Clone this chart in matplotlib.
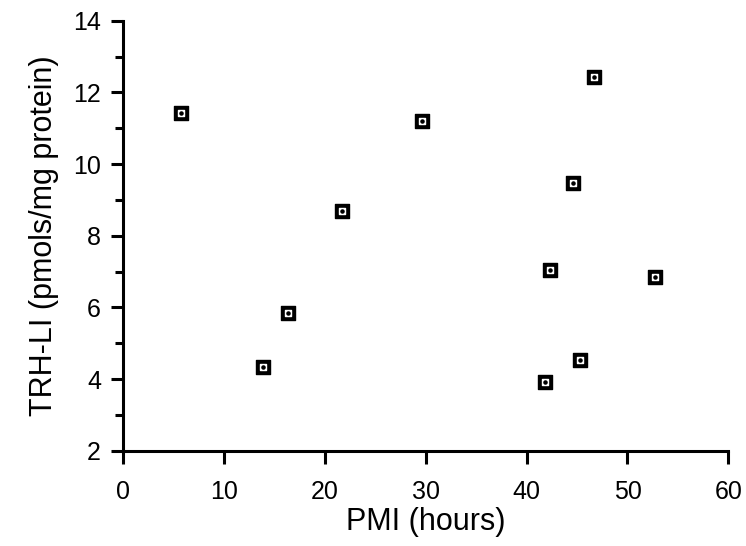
import numpy as np
import matplotlib
matplotlib.use("Agg")
import matplotlib.pyplot as plt
from matplotlib.ticker import MultipleLocator

# PMI (hours) vs TRH-LI (pmols/mg protein)
pmi = [5.7, 13.9, 16.3, 21.7, 29.6, 41.8, 42.3, 44.6, 45.3, 46.7, 52.7]
trh = [11.42, 4.34, 5.83, 8.69, 11.2, 3.91, 7.04, 9.46, 4.53, 12.43, 6.86]

xticks = [0, 10, 20, 30, 40, 50, 60]
yticks = [2, 4, 6, 8, 10, 12, 14]

plt.rcParams['font.family'] = ['Liberation Sans', 'DejaVu Sans']

fig = plt.figure(figsize=(7.46, 5.46), dpi=100)
ax = fig.add_axes([0.1653, 0.1745, 0.811, 0.7875])

# open square with a dot in the middle
ax.scatter(pmi, trh, marker='s', s=115, color='black', zorder=3, clip_on=False)
ax.scatter(pmi, trh, marker='s', s=22, color='white', zorder=4, clip_on=False)
ax.scatter(pmi, trh, marker='o', s=5, color='black', zorder=5, clip_on=False)

ax.set_xlim(0, 60)
ax.set_ylim(2, 14)
ax.set_xticks(xticks)
ax.set_yticks(yticks)
ax.yaxis.set_minor_locator(MultipleLocator(1))

for side in ['top', 'right']:
    ax.spines[side].set_visible(False)
for side in ['left', 'bottom']:
    ax.spines[side].set_linewidth(2.2)

ax.tick_params(axis='x', which='major', direction='out', length=9, width=2.2,
               pad=12, labelsize=18)
ax.tick_params(axis='y', which='major', direction='out', length=9, width=2.2,
               pad=7, labelsize=18)
ax.tick_params(axis='y', which='minor', direction='out', length=6, width=2.2)

ax.set_xlabel('PMI (hours)', fontsize=22, labelpad=2)
ax.set_ylabel('TRH-LI (pmols/mg protein)', fontsize=22, labelpad=10)

fig.savefig('out.png', dpi=100)
